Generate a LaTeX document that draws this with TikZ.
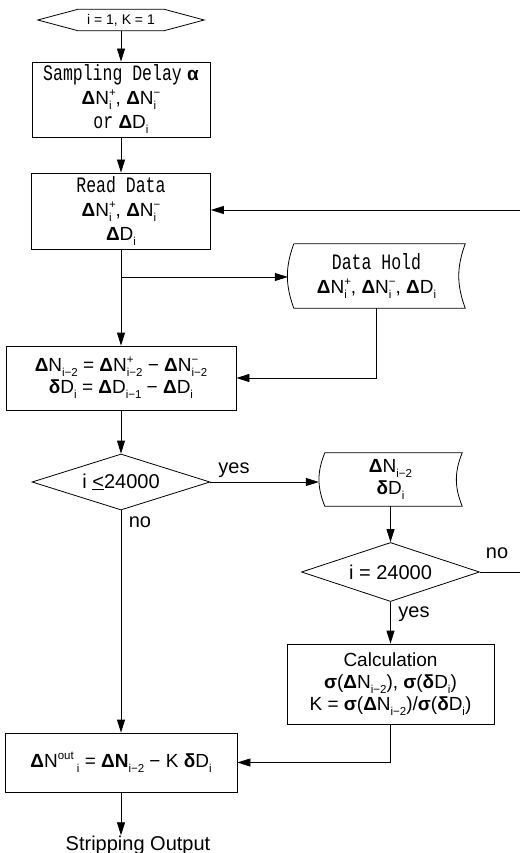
\documentclass[tikz,border=0pt]{standalone}
\usepackage{fontspec}
\setmainfont{Liberation Sans}
\newfontfamily\monof[FakeStretch=0.75]{Liberation Mono}
\usetikzlibrary{arrows.meta,shapes.geometric,calc}

\newcommand\subf{\fontsize{11.5}{12}\selectfont}
\newcommand\mono[1]{{\fontsize{22}{24}\selectfont\monof #1}}
\newcommand\Dl{\textbf{Δ}}
\newcommand\Sb[1]{\raisebox{-5pt}{\subf #1}}
\newcommand\Sp[1]{\raisebox{8pt}{\subf #1}}
\newcommand\SbSp[2]{%
  \begingroup
  \setbox0=\hbox{\subf #1}%
  \setbox2=\hbox{\subf #2}%
  \ifdim\wd0>\wd2 \dimen0=\wd0 \else \dimen0=\wd2 \fi
  \hbox to \dimen0{\rlap{\raise-5pt\box0}\raise8pt\box2\hfil}%
  \endgroup}
\newcommand\storedraw[2]{%
  \draw[line width=0.8pt] ([xshift=6pt]#1.north west) -- (#1.north east)
    to[bend right=#2] (#1.south east) -- ([xshift=6pt]#1.south west)
    to[bend left=#2] ([xshift=6pt]#1.north west);}

\tikzset{
  box/.style={draw, line width=0.8pt, inner sep=0pt, align=center,
    font=\fontsize{19}{24}\selectfont},
  store/.style={inner sep=0pt, align=center, font=\fontsize{19}{24}\selectfont},
  dec/.style={draw, diamond, aspect=3.2, line width=0.8pt, inner sep=0pt,
    font=\fontsize{20}{24}\selectfont},
  conn/.style={line width=0.8pt, -{Triangle[length=13pt,width=8pt]}},
  plain/.style={line width=0.8pt},
  lbl/.style={font=\fontsize{20}{24}\selectfont, inner sep=0pt},
}

\begin{document}
\begin{tikzpicture}[x=1pt,y=-1pt]
\useasboundingbox (0,0) rectangle (520,853);

% start hexagon
\node[inner sep=0pt, minimum width=166pt, minimum height=21pt,
  font=\fontsize{14}{14}\selectfont] (start) at (121,20) {i = 1, K = 1};
\draw[plain] (start.west) -- ([xshift=40pt]start.north west)
  -- ([xshift=-40pt]start.north east) -- (start.east)
  -- ([xshift=-40pt]start.south east) -- ([xshift=40pt]start.south west) -- cycle;

\node[box, minimum width=178pt, minimum height=75pt] (samp) at (121,99.5)
  {\mono{Sampling Delay} \textbf{α}\\
   \Dl N\SbSp{i}{+}, \Dl N\SbSp{i}{−}\\
   \mono{or} \Dl D\Sb{i}};

\node[box, minimum width=179pt, minimum height=76pt] (read) at (121,211)
  {\mono{Read Data}\\
   \Dl N\SbSp{i}{+}, \Dl N\SbSp{i}{−}\\
   \Dl D\Sb{i}};

\node[store, minimum width=177pt, minimum height=64pt] (hold) at (376.5,276)
  {\mono{Data Hold}\\
   \Dl N\SbSp{i}{+}, \Dl N\SbSp{i}{−}, \Dl D\Sb{i}};
\storedraw{hold}{20}

\node[box, minimum width=230pt, minimum height=64pt] (calc1) at (121,378)
  {\Dl N\Sb{i−2} = \Dl N\SbSp{i−2}{+} − \Dl N\SbSp{i−2}{−}\\[-2pt]
   \textbf{δ}D\Sb{i} = \Dl D\Sb{i−1} − \Dl D\Sb{i}};

\node[dec, minimum width=178pt, minimum height=56pt] (dec1) at (121,482)
  {i \underline{<}24000};

\node[store, minimum width=143pt, minimum height=53pt] (st2) at (390.5,479.5)
  {\Dl N\Sb{i−2}\\[-2pt] \textbf{δ}D\Sb{i}};
\storedraw{st2}{22}

\node[dec, minimum width=178pt, minimum height=59pt] (dec2) at (390.5,572)
  {i = 24000};

\node[box, minimum width=207pt, minimum height=80pt] (calc) at (390.5,684)
  {Calculation\\[-2pt]
   \textbf{σ}(\Dl N\Sb{i−2}), \textbf{σ}(\textbf{δ}D\Sb{i})\\[-2pt]
   K = \textbf{σ}(\Dl N\Sb{i−2})/\textbf{σ}(\textbf{δ}D\Sb{i})};

\node[box, minimum width=232pt, minimum height=59pt] (out) at (121,762.5)
  {\Dl N\Sp{out}\,\Sb{i} = \Dl\textbf{N}\Sb{i−2} − K \textbf{δ}D\Sb{i}};

\node[lbl, anchor=base] (strip) at (138,850) {Stripping Output};

% labels
\node[lbl] (yes1) at (234,470) {yes};
\node[lbl] (no1) at (140,522) {no};
\node[lbl] (yes2) at (414,614) {yes};
\node[lbl] (no2) at (497,553) {no};

% connectors
\coordinate (rin) at (519.5,210);
\coordinate (br) at (121,277);
\coordinate (nout) at (519.5,572);
\draw[conn] (start.south) -- (samp.north);
\draw[conn] (samp.south) -- (read.north);
\draw[conn] (rin) -- (rin -| read.east);
\draw[conn] (read.south) -- (calc1.north);
\draw[conn] (br) -- (br -| hold.west);
\draw[conn] (hold.south) |- (calc1.east);
\draw[conn] (calc1.south) -- (dec1.north);
\draw[conn] (dec1.east) -- (dec1.east -| st2.west);
\draw[conn] (st2.south) -- (dec2.north);
\draw[plain] (dec2.east) -- (nout);
\draw[conn] (dec2.south) -- (calc.north);
\draw[conn] (dec1.south) -- (out.north);
\draw[conn] (calc.south) |- (out.east);
\draw[conn] (out.south) -- (out.south |- strip.north);
\end{tikzpicture}
\end{document}
